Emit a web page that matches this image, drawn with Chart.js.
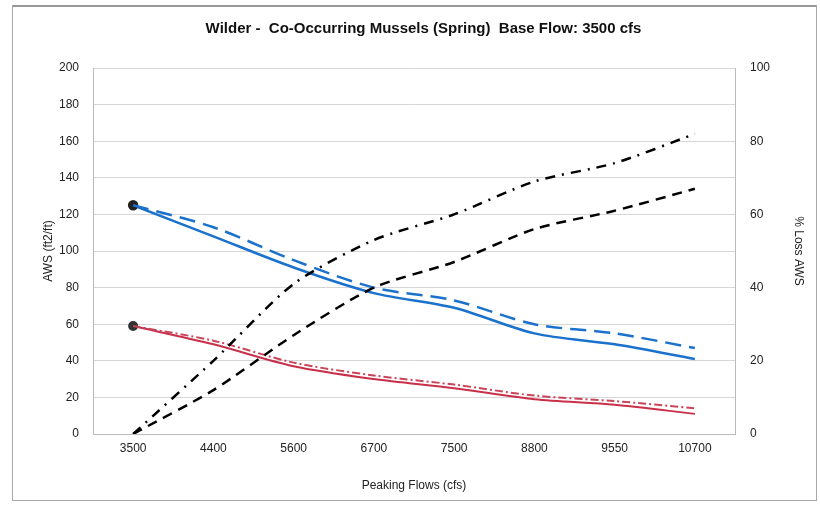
<!DOCTYPE html>
<html>
<head>
<meta charset="utf-8">
<script src="https://cdn.jsdelivr.net/npm/chart.js@4.4.1/dist/chart.umd.min.js"></script>
<style>
body{margin:0;background:#fff;}
#wrap{position:relative;width:820px;height:505px;}
#frame{position:absolute;left:12px;top:5px;width:803px;height:493px;border:1px solid #a8a8a8;border-top:2px solid #999;}
canvas{position:absolute;left:0;top:0;}
</style>
</head>
<body>
<div id="wrap">
<div id="frame"></div>
<canvas id="chart" width="820" height="505"></canvas>
</div>
<script>
const flows=['3500','4400','5600','6700','7500','8800','9550','10700'];

// AWS (left axis)
const blueSolid=[125,108,91,77,69,55,49,41];
const blueDash=[125,113,95,80,73,60,55,47];
const redSolid=[59,49,37,30,25,19,16,11];
const redDashDot=[59,51,39,32,27,21,18,14];

// % loss (right axis)
const lossDashDot=[0,20,41,53,60,69,74,82];
const lossDash=[0,12,27,40,47,56,61,67];

const leftTicks=[0,20,40,60,80,100,120,140,160,180,200];
const rightTicks=[0,20,40,60,80,100];

const firstDot=flows.map((f,i)=>i===0?4:0);
const font="'Liberation Sans Narrow','Liberation Sans',Arial,sans-serif";

Chart.defaults.font.family=font;
Chart.defaults.color="#222";

new Chart(document.getElementById("chart"),{
    type:'line',
    data:{
        labels:flows,
        datasets:[
            {data:lossDashDot,yAxisID:'y2',borderColor:'#000',borderWidth:2.5,borderDash:[10,7,2,7],pointRadius:0,tension:0.25},
            {data:lossDash,yAxisID:'y2',borderColor:'#000',borderWidth:2.5,borderDash:[10,7],pointRadius:0,tension:0.25},
            {data:blueDash,yAxisID:'y',borderColor:'#1a72cc',borderWidth:2.5,borderDash:[16,8],pointRadius:0,tension:0.3},
            {data:blueSolid,yAxisID:'y',borderColor:'#1a72cc',borderWidth:2.5,pointRadius:firstDot,pointBackgroundColor:'#222',pointBorderColor:'#222',tension:0.3},
            {data:redDashDot,yAxisID:'y',borderColor:'#c9455a',borderWidth:2,borderDash:[8,3,2,3],pointRadius:0,tension:0.3},
            {data:redSolid,yAxisID:'y',borderColor:'#c8304a',borderWidth:2,pointRadius:firstDot,pointBackgroundColor:'#333',pointBorderColor:'#333',tension:0.3}
        ]
    },
    options:{
        responsive:false,
        animation:false,
        layout:{padding:{left:37,right:10,top:8,bottom:8}},
        plugins:{
            legend:{display:false},
            tooltip:{enabled:false},
            title:{display:true,text:'Wilder -  Co-Occurring Mussels (Spring)  Base Flow: 3500 cfs',
                font:{size:15,weight:'bold',family:font},color:'#111',padding:{top:12,bottom:30}}
        },
        scales:{
            x:{
                offset:true,
                grid:{display:false,drawTicks:true,tickLength:4,offset:true},
                border:{color:'#bbb'},
                ticks:{font:{size:12},color:'#222',padding:3},
                title:{display:true,text:'Peaking Flows (cfs)',font:{size:12},color:'#222',padding:{top:14}},
                afterFit(s){s.height=63;}
            },
            y:{
                position:'left',min:0,max:200,
                afterBuildTicks(s){s.ticks=leftTicks.map(v=>({value:v}));},
                grid:{color:'#d6d6d6',drawTicks:false},
                border:{color:'#bbb'},
                ticks:{font:{size:12},color:'#222',padding:14},
                title:{display:true,text:'AWS (ft2/ft)',font:{size:12},color:'#222',padding:{bottom:4}},
                afterFit(s){s.width=56;}
            },
            y2:{
                position:'right',min:0,max:100,
                afterBuildTicks(s){s.ticks=rightTicks.map(v=>({value:v}));},
                grid:{display:false,drawTicks:false},
                border:{color:'#bbb'},
                ticks:{font:{size:12},color:'#222',padding:15},
                title:{display:true,text:'% Loss AWS',font:{size:12},color:'#222',padding:{top:4}},
                afterFit(s){s.width=75;}
            }
        }
    }
});
</script>
</body>
</html>
